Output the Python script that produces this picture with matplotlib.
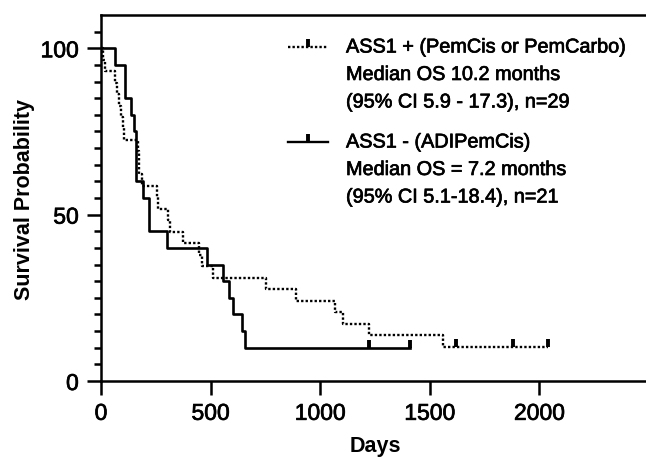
import matplotlib
matplotlib.use("Agg")
import matplotlib.pyplot as plt
from matplotlib.lines import Line2D
import matplotlib.patheffects as pe

plt.rcParams['font.family'] = ['Liberation Sans', 'DejaVu Sans']

# ASS1 + (PemCis or PemCarbo), n=29 -- step times (days) and survival (%)
pos_days = [0, 9, 20, 62, 72, 80, 90, 100, 105, 170, 172, 175, 185, 254, 262,
            307, 315, 373, 448, 459, 512, 751, 888, 1068, 1106, 1224, 1559, 2041]
pos_surv = [100, 96.6, 93.1, 89.7, 86.2, 82.8, 79.3, 75.9, 72.4, 69.0, 65.5, 62.1,
            58.6, 55.2, 51.7, 48.3, 44.8, 41.4, 37.9, 34.5, 31.0, 27.6, 24.1, 20.7,
            17.2, 13.8, 10.3, 10.3]
pos_cens_days = [1620, 1881, 2041]
pos_cens_surv = [10.3, 10.3, 10.3]

# ASS1 - (ADIPemCis), n=21
neg_days = [0, 62, 111, 138, 150, 158, 192, 219, 302, 485, 558, 585, 604, 645, 657, 1410]
neg_surv = [100, 95, 85, 80, 75, 60, 55, 45, 40, 35, 30, 25, 20, 15, 10, 10]
neg_cens_days = [1224, 1410]
neg_cens_surv = [10, 10]

legend_pos = ["ASS1 + (PemCis or PemCarbo)", "Median OS 10.2 months",
              "(95% CI 5.9 - 17.3), n=29"]
legend_neg = ["ASS1 - (ADIPemCis)", "Median OS = 7.2 months",
              "(95% CI 5.1-18.4), n=21"]

W, H = 646, 460
fig = plt.figure(figsize=(W / 100, H / 100), dpi=100)
ax = fig.add_axes([101 / W, (H - 382) / H, 548 / W, 366 / H])

# slightly heavier strokes for text, like the original export
heavy = [pe.withStroke(linewidth=0.5, foreground='black')]

lw = 1.9
dotted = (0, (1, 0.9))
ax.step(pos_days, pos_surv, where='post', color='black', lw=lw - 0.2, linestyle=dotted)
ax.step(neg_days, neg_surv, where='post', color='black', lw=lw)
ax.plot(pos_cens_days, pos_cens_surv, linestyle='none', marker=2, ms=5.5, mew=2.8, color='black')
ax.plot(neg_cens_days, neg_cens_surv, linestyle='none', marker=2, ms=5.5, mew=2.8, color='black')

ax.set_xlim(0, 2500)
ax.set_ylim(0, 110)
ax.set_xticks([0, 500, 1000, 1500, 2000])
ax.set_yticks([0, 50, 100])
ax.set_yticks(range(5, 110, 5), minor=True)
ax.spines['right'].set_visible(False)
for s in ['left', 'bottom', 'top']:
    ax.spines[s].set_linewidth(1.8)
ax.tick_params(axis='both', which='major', length=10, width=1.8, labelsize=16.5)
ax.tick_params(axis='y', which='major', pad=6)
ax.tick_params(axis='x', which='major', pad=5)
ax.tick_params(axis='y', which='minor', length=5, width=1.8)
for lab in ax.get_xticklabels() + ax.get_yticklabels():
    lab.set_path_effects(heavy)
ax.set_xlabel('Days', fontsize=15.5, fontweight='bold', labelpad=7)
ax.set_ylabel('Survival Probability', fontsize=15.5, fontweight='bold', labelpad=4)


def fx(px):
    return px / W


def fy(py):
    return 1 - py / H


def legend_entry(y0, style, lines):
    fig.add_artist(Line2D([fx(288), fx(328)], [fy(y0), fy(y0)], color='black', lw=lw - 0.2,
                          linestyle=style, transform=fig.transFigure))
    fig.add_artist(Line2D([fx(308)], [fy(y0)], color='black', marker=2, ms=5.5, mew=2.8,
                          linestyle='none', transform=fig.transFigure))
    for i, t in enumerate(lines):
        fig.text(fx(346), fy(y0 + i * 27.5), t, fontsize=14.3, va='center', ha='left',
                 path_effects=heavy)


legend_entry(48, dotted, legend_pos)
legend_entry(143, '-', legend_neg)

fig.savefig('out.png', dpi=100)
